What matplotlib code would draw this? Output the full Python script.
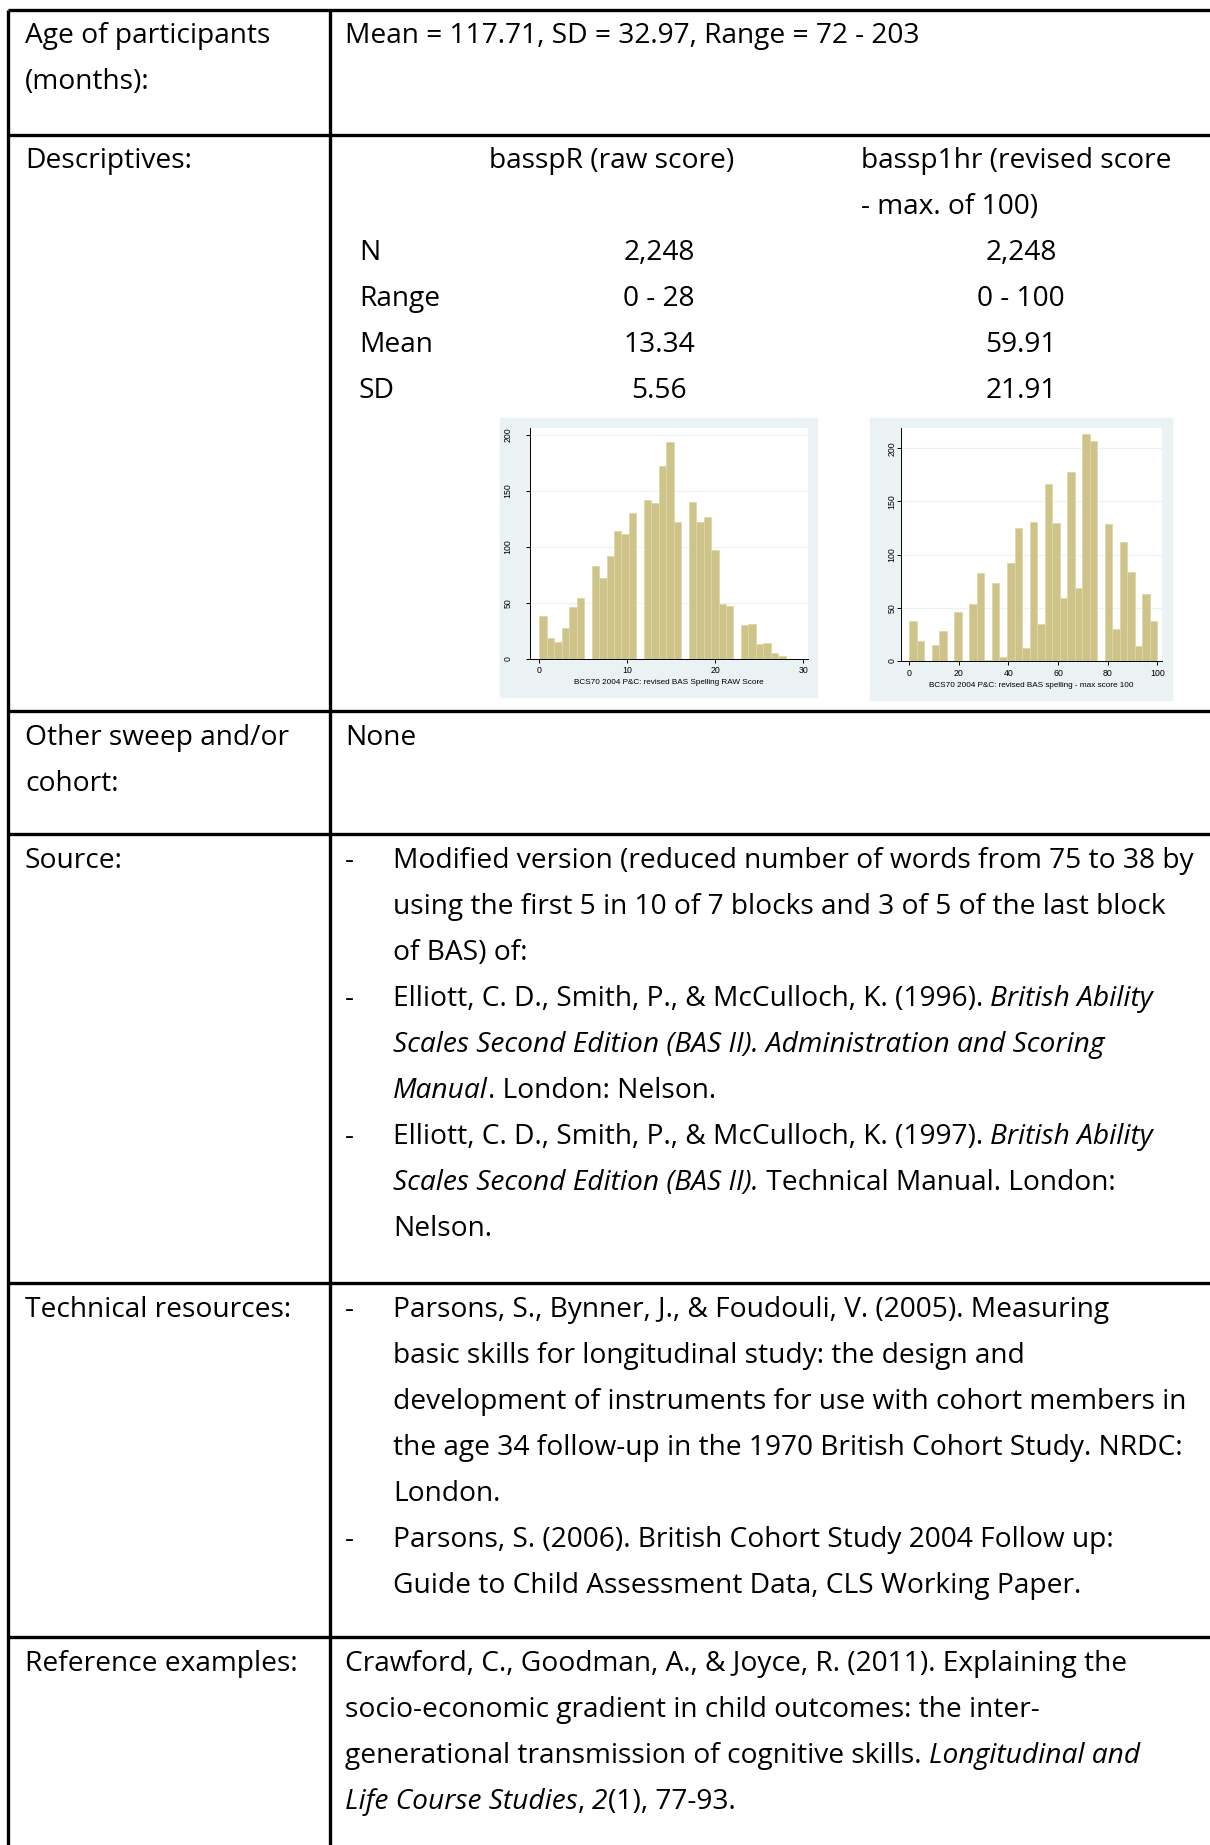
import matplotlib
matplotlib.use("Agg")
import matplotlib.pyplot as plt
from matplotlib.patches import Rectangle
import numpy as np

# histogram counts (33 bins each)
raw_counts = [38, 19, 15, 28, 46, 54, 0, 83, 72, 92, 114, 111, 130, 0, 142, 139, 172,
              193, 122, 0, 140, 122, 127, 97, 49, 47, 0, 30, 31, 13, 14, 5, 3]
rev_counts = [38, 19, 0, 15, 28, 0, 46, 0, 54, 83, 1, 73, 4, 92, 125, 12, 131, 35, 166,
              130, 59, 178, 69, 213, 207, 0, 129, 30, 112, 84, 14, 63, 38]
raw_max = 28
rev_max = 100

stat_names = ["N", "Range", "Mean", "SD"]
raw_stats = ["2,248", "0 - 28", "13.34", "5.56"]
rev_stats = ["2,248", "0 - 100", "59.91", "21.91"]

raw_xlabel = "BCS70 2004 P&C: revised BAS Spelling RAW Score"
rev_xlabel = "BCS70 2004 P&C: revised BAS spelling - max score 100"

W, H = 1210, 1845
FONT = "Open Sans"
BAR = "#CEC489"
BAR_EDGE = "#DDD7A9"
PANEL = "#EAF2F3"

fig = plt.figure(figsize=(W / 100, H / 100), dpi=100)
bg = fig.add_axes([0, 0, 1, 1])
bg.set_xlim(0, W)
bg.set_ylim(H, 0)
bg.axis("off")
renderer = fig.canvas.get_renderer()


def text_w(s, style, fs):
    t = bg.text(0, 0, s + "|", fontsize=fs, family=FONT, style=style)
    w = t.get_window_extent(renderer).width
    t.remove()
    t = bg.text(0, 0, "|", fontsize=fs, family=FONT, style=style)
    w -= t.get_window_extent(renderer).width
    t.remove()
    return w


# size the body font so the long source line fills the same width as in the page
FS = 10 * 800 / text_w("Modified version (reduced number of words from 75 to 38 by", "normal", 10)


def put(x, y, parts, ha="left"):
    if isinstance(parts, str):
        parts = [(parts, "normal")]
    if ha == "center":
        x -= sum(text_w(s, st, FS) for s, st in parts) / 2
    for s, st in parts:
        bg.text(x, y, s, fontsize=FS, family=FONT, style=st, va="baseline", ha="left",
                color="black")
        x += text_w(s, st, FS)


# table rules
LW = 2.4
for y in [10, 135, 711, 834, 1283, 1637]:
    bg.plot([8, W], [y, y], color="black", lw=LW, solid_capstyle="butt")
for x in [8, 330]:
    bg.plot([x, x], [10, H], color="black", lw=LW, solid_capstyle="butt")

LX, RX, DX, BX = 25, 345, 345, 393
STEP = 46

# row 1
put(LX, 43, "Age of participants")
put(LX, 43 + STEP, "(months):")
put(RX, 43, "Mean = 117.71, SD = 32.97, Range = 72 - 203")

# row 2
put(LX, 168, "Descriptives:")
put(612, 168, "basspR (raw score)", ha="center")
put(861, 168, "bassp1hr (revised score")
put(861, 168 + STEP, "- max. of 100)")
for i, name in enumerate(stat_names):
    y = 260 + i * STEP
    put(359, y, name)
    put(659, y, raw_stats[i], ha="center")
    put(1021, y, rev_stats[i], ha="center")

# row 3
put(LX, 745, "Other sweep and/or")
put(LX, 745 + STEP, "cohort:")
put(RX, 745, "None")

# row 4
put(LX, 868, "Source:")
src = [
    (True, [("Modified version (reduced number of words from 75 to 38 by", "normal")]),
    (False, [("using the first 5 in 10 of 7 blocks and 3 of 5 of the last block", "normal")]),
    (False, [("of BAS) of:", "normal")]),
    (True, [("Elliott, C. D., Smith, P., & McCulloch, K. (1996). ", "normal"),
            ("British Ability", "italic")]),
    (False, [("Scales Second Edition (BAS II). Administration and Scoring", "italic")]),
    (False, [("Manual", "italic"), (". London: Nelson.", "normal")]),
    (True, [("Elliott, C. D., Smith, P., & McCulloch, K. (1997). ", "normal"),
            ("British Ability", "italic")]),
    (False, [("Scales Second Edition (BAS II).", "italic"),
             (" Technical Manual. London:", "normal")]),
    (False, [("Nelson.", "normal")]),
]
for i, (dash, parts) in enumerate(src):
    y = 868 + i * STEP
    if dash:
        put(DX, y, "-")
    put(BX, y, parts)

# row 5
put(LX, 1317, "Technical resources:")
tech = [
    (True, "Parsons, S., Bynner, J., & Foudouli, V. (2005). Measuring"),
    (False, "basic skills for longitudinal study: the design and"),
    (False, "development of instruments for use with cohort members in"),
    (False, "the age 34 follow-up in the 1970 British Cohort Study. NRDC:"),
    (False, "London."),
    (True, "Parsons, S. (2006). British Cohort Study 2004 Follow up:"),
    (False, "Guide to Child Assessment Data, CLS Working Paper."),
]
for i, (dash, s) in enumerate(tech):
    y = 1317 + i * STEP
    if dash:
        put(DX, y, "-")
    put(BX, y, s)

# row 6
put(LX, 1671, "Reference examples:")
refs = [
    [("Crawford, C., Goodman, A., & Joyce, R. (2011). Explaining the", "normal")],
    [("socio-economic gradient in child outcomes: the inter-", "normal")],
    [("generational transmission of cognitive skills. ", "normal"),
     ("Longitudinal and", "italic")],
    [("Life Course Studies", "italic"), (", ", "normal"), ("2", "italic"),
     ("(1), 77-93.", "normal")],
]
for i, parts in enumerate(refs):
    put(RX, 1671 + i * STEP, parts)

# histogram panels
bg.add_patch(Rectangle((500, 418), 317, 279, color=PANEL, zorder=0))
bg.add_patch(Rectangle((870, 418), 302, 282, color=PANEL, zorder=0))


def hist_axes(box, counts, vmax, xlim, ylim, xticks, xlabel, ypad, label_y):
    x0, y0, x1, y1 = box
    ax = fig.add_axes([x0 / W, 1 - y1 / H, (x1 - x0) / W, (y1 - y0) / H])
    edges = np.linspace(0, vmax, len(counts) + 1)
    ax.bar(edges[:-1], counts, width=edges[1] - edges[0], align="edge",
           color=BAR, edgecolor=BAR_EDGE, linewidth=0.6, zorder=2)
    ax.set_xlim(*xlim)
    ax.set_ylim(*ylim)
    ax.set_facecolor("white")
    for side in ["top", "right"]:
        ax.spines[side].set_visible(False)
    for side in ["left", "bottom"]:
        ax.spines[side].set_linewidth(0.7)
        ax.spines[side].set_zorder(3)
    ax.set_yticks([0, 50, 100, 150, 200])
    ax.set_xticks(xticks)
    ax.yaxis.grid(True, color=PANEL, lw=0.9, zorder=0)
    ax.set_axisbelow(True)
    ax.tick_params(axis="both", direction="out", length=3, width=0.7, labelsize=6.3)
    ax.tick_params(axis="y", pad=ypad)
    ax.tick_params(axis="x", pad=2.4)
    for lab in ax.get_yticklabels():
        lab.set_rotation(90)
        lab.set_va("center")
        lab.set_family("Liberation Sans")
    for lab in ax.get_xticklabels():
        lab.set_family("Liberation Sans")
    ax.set_xlabel(xlabel, fontsize=5.9, family="Liberation Sans")
    ax.xaxis.set_label_coords(0.5, label_y)
    return ax


hist_axes((530, 428, 808, 659), raw_counts, raw_max, (-1.06, 30.53), (0, 205.9),
          [0, 10, 20, 30], raw_xlabel, 9.5, -0.088)
hist_axes((901, 428, 1162, 661), rev_counts, rev_max, (-3.35, 101.9), (0, 219),
          [0, 20, 40, 60, 80, 100], rev_xlabel, 0.3, -0.092)

fig.savefig("out.png", dpi=100)
